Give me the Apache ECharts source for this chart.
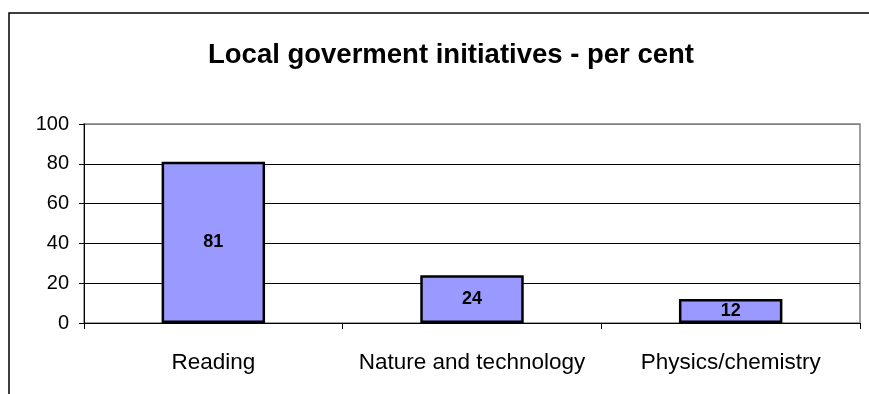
<!DOCTYPE html>
<html>
<head>
<meta charset="utf-8">
<script src="https://cdn.jsdelivr.net/npm/echarts@6/dist/echarts.min.js"></script>
<style>
	html, body { margin: 0; padding: 0; background: #fff; }
	#main { width: 869px; height: 394px; }
</style>
</head>
<body>
<div id="main"></div>
<script>
var titleText = 'Local goverment initiatives - per cent';
var categories = ['Reading', 'Nature and technology', 'Physics/chemistry'];
var values = [81, 24, 12];
var yTicks = [0, 20, 40, 60, 80, 100];

var myChart = echarts.init(document.getElementById('main'));
var font = '"Liberation Sans", Arial, sans-serif';
var option = {
	animation: false,
	textStyle: { fontFamily: font },
	title: {
		text: titleText,
		left: 446,
		textAlign: 'center',
		top: 36,
		textStyle: { fontFamily: font, fontSize: 27.5, fontWeight: 'bold', color: '#000' }
	},
	graphic: [{
		type: 'rect',
		shape: { x: 9, y: 13, width: 900, height: 450 },
		style: { fill: null, stroke: '#000', lineWidth: 1.5 },
		silent: true
	}],
	grid: {
		left: 84, top: 124, right: 9, bottom: 71,
		show: true,
		borderColor: '#808080',
		borderWidth: 1.5
	},
	xAxis: {
		type: 'category',
		data: categories,
		axisLine: { lineStyle: { color: '#000', width: 1 } },
		axisTick: { show: true, length: 6, lineStyle: { color: '#000' } },
		axisLabel: { color: '#000', fontSize: 22.5, margin: 28, interval: 0 }
	},
	yAxis: {
		type: 'value',
		min: yTicks[0],
		max: yTicks[yTicks.length - 1],
		interval: 20,
		axisLine: { show: true, lineStyle: { color: '#000', width: 1 } },
		axisTick: { show: true, length: 5, lineStyle: { color: '#000' } },
		axisLabel: { color: '#000', fontSize: 20, margin: 15 },
		splitLine: { lineStyle: { color: ['#000', '#000', '#000', '#000', '#000', '#808080'], width: 1 } }
	},
	series: [{
		type: 'bar',
		data: values,
		barWidth: '40%',
		itemStyle: { color: '#9999FF', borderColor: '#000', borderWidth: 2.5 },
		label: {
			show: true,
			position: 'inside',
			color: '#000',
			fontSize: 18,
			fontWeight: 'bold',
			fontFamily: font
		}
	}]
};
myChart.setOption(option);
</script>
</body>
</html>
